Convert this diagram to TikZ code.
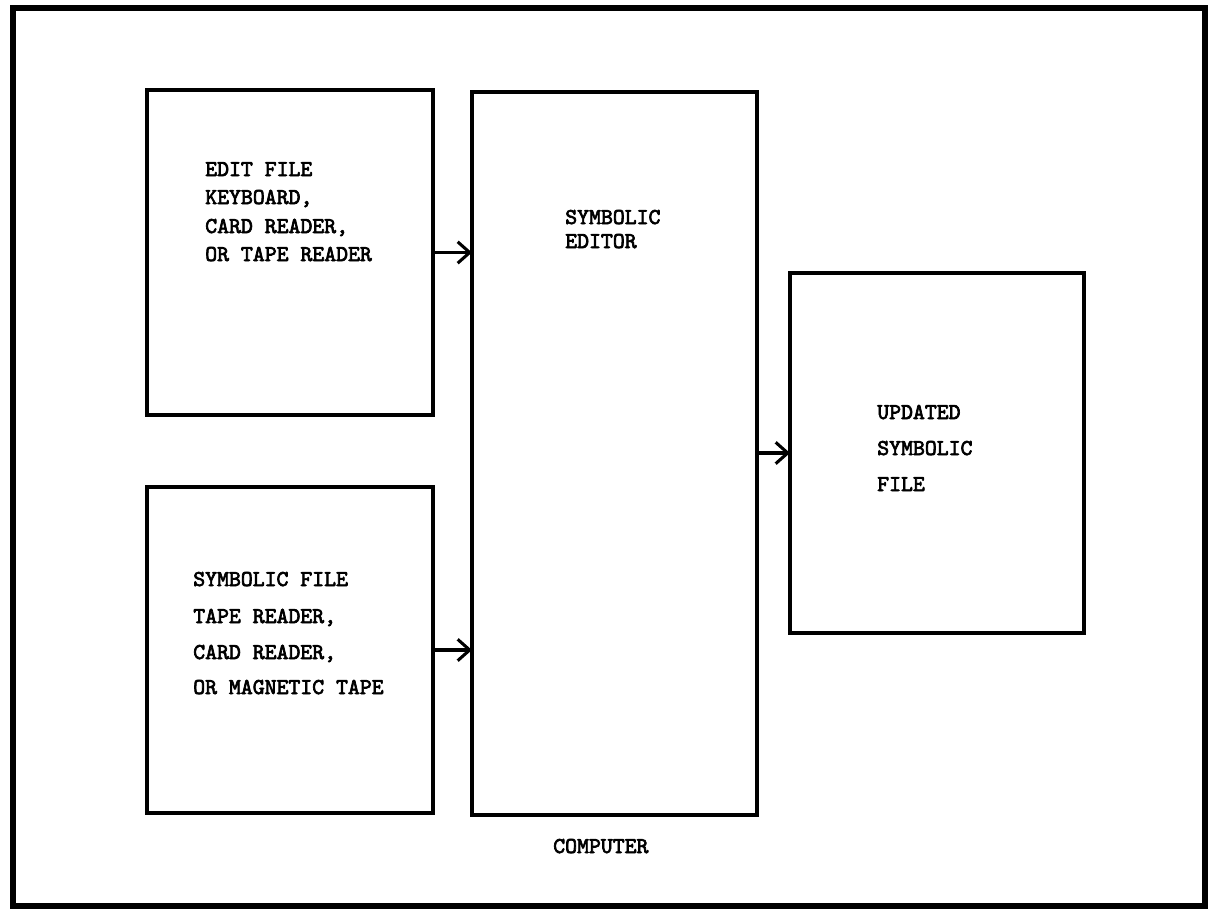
\documentclass[tikz,border=0pt]{standalone}
\usepackage{fontspec}
\newfontfamily\typew{lmmono10-regular}[Extension=.otf, FakeBold=3]
\usetikzlibrary{arrows.meta}
\tikzset{
  box/.style={draw, line width=2.3pt, inner sep=0pt, outer sep=0pt},
  lbl/.style={anchor=base west, inner sep=0pt, font=\typew\fontsize{17pt}{20pt}\selectfont},
  arr/.style={line width=2.3pt, -{Straight Barb[length=9pt, width=16pt, line width=2.3pt]}}
}
\begin{document}
\begin{tikzpicture}[x=0.75pt, y=-0.75pt]
\useasboundingbox (0,0) rectangle (1210,910);
\draw[line width=3.8pt] (13,8) rectangle (1205,906);
\node[box, minimum width=214.5pt, minimum height=243.75pt] (b1) at (290,252.5) {};
\node[box, minimum width=214.5pt, minimum height=244.5pt] (b2) at (290,650) {};
\node[box, minimum width=213.75pt, minimum height=542.25pt] (mid) at (614.5,453.5) {};
\node[box, minimum width=220.5pt, minimum height=270pt] (out) at (937,453) {};

\node[lbl] (t1) at (205,176) {EDIT FILE};
\node[lbl] (t2) at (205,204) {KEYBOARD,};
\node[lbl] (t3) at (205,233) {CARD READER,};
\node[lbl] (t4) at (205,261) {OR TAPE READER};

\node[lbl] (s1) at (193,586) {SYMBOLIC FILE};
\node[lbl] (s2) at (193,623) {TAPE READER,};
\node[lbl] (s3) at (193,659) {CARD READER,};
\node[lbl] (s4) at (193,694) {OR MAGNETIC TAPE};

\node[lbl] (m1) at (565,224) {SYMBOLIC};
\node[lbl] (m2) at (565,248) {EDITOR};

\node[lbl] (u1) at (877,419) {UPDATED};
\node[lbl] (u2) at (877,455) {SYMBOLIC};
\node[lbl] (u3) at (877,491) {FILE};

\node[lbl] (comp) at (553,853) {COMPUTER};

\draw[arr] (b1.east) -- (b1.east -| mid.west);
\draw[arr] (b2.east) -- (b2.east -| mid.west);
\draw[arr] (mid.east |- out.west) -- (out.west);
\end{tikzpicture}
\end{document}
